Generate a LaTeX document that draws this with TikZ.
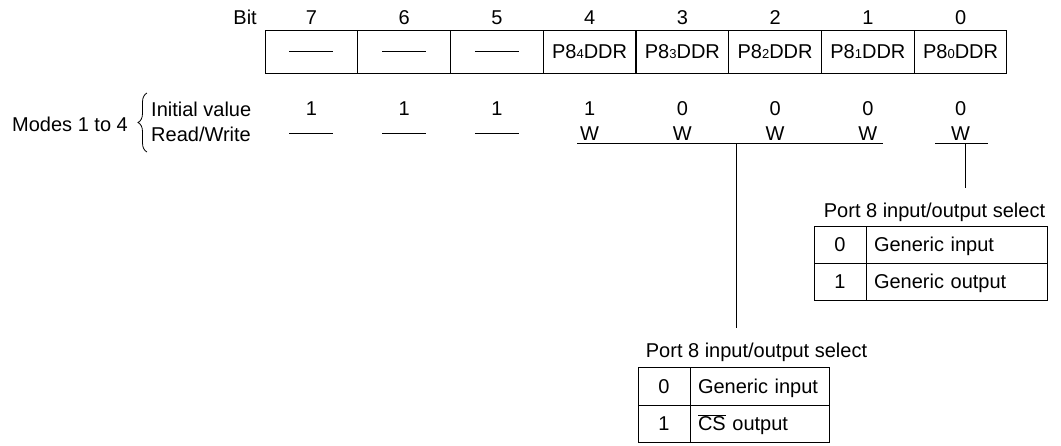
\documentclass[tikz,border=0pt]{standalone}
\usepackage{fontspec}
\setmainfont{Liberation Sans}
\usetikzlibrary{decorations.pathreplacing}
\newcommand\subd[1]{{\fontsize{13}{13}\selectfont #1}}
\begin{document}
\begin{tikzpicture}[x=1pt,y=-1pt,
  every node/.style={font=\fontsize{20}{24}\selectfont, inner sep=0pt},
  ln/.style={line width=1pt},
  cell/.style={draw, line width=1pt, minimum width=92.75pt, minimum height=43pt, anchor=center},
  txt/.style={anchor=base},
  ltxt/.style={anchor=base west},
  tkey/.style={draw, line width=1pt, minimum width=52pt, anchor=center, text height=14.3pt, text depth=0pt},
  tval/.style={draw, line width=1pt, anchor=center, text width=#1, align=left, inner xsep=8pt, text height=14.3pt, text depth=0pt},
]
\useasboundingbox (0,0) rectangle (1061,445);

% bit numbers
\node[anchor=base east] (bit) at (257,24) {Bit};
\node[txt] (b7) at (311.4,24) {7};
\node[txt] (b6) at (404.1,24) {6};
\node[txt] (b5) at (496.9,24) {5};
\node[txt] (b4) at (589.6,24) {4};
\node[txt] (b3) at (682.4,24) {3};
\node[txt] (b2) at (775.1,24) {2};
\node[txt] (b1) at (867.9,24) {1};
\node[txt] (b0) at (960.6,24) {0};

% register cells
\node[cell] (c7) at (311.4,51.5) {};
\node[cell] (c6) at (404.1,51.5) {};
\node[cell] (c5) at (496.9,51.5) {};
\node[cell] (c4) at (589.6,51.5) {P8\subd{4}DDR};
\node[cell] (c3) at (682.4,51.5) {P8\subd{3}DDR};
\node[cell] (c2) at (775.1,51.5) {P8\subd{2}DDR};
\node[cell] (c1) at (867.9,51.5) {P8\subd{1}DDR};
\node[cell] (c0) at (960.6,51.5) {P8\subd{0}DDR};
\foreach \c in {c7,c6,c5}{
  \draw[ln] ([xshift=-22pt]\c.center) -- ([xshift=22pt]\c.center);
}

% left labels
\node[ltxt] (modes) at (12,131) {Modes 1 to 4};
\node[ltxt] (iv) at (151,116) {Initial value};
\node[ltxt] (rw) at (151,141) {Read/Write};
\coordinate (brb) at (147,152);
\coordinate (brt) at (147,93);
\draw[line width=0.8pt, decorate, decoration={brace, amplitude=9pt}] (brb) -- (brt);

% initial values
\node[txt] (i7) at (311.4,115) {1};
\node[txt] (i6) at (404.1,115) {1};
\node[txt] (i5) at (496.9,115) {1};
\node[txt] (i4) at (589.6,115) {1};
\node[txt] (i3) at (682.4,115) {0};
\node[txt] (i2) at (775.1,115) {0};
\node[txt] (i1) at (867.9,115) {0};
\node[txt] (i0) at (960.6,115) {0};

% read/write
\coordinate (r7) at (311.4,133);
\coordinate (r6) at (404.1,133);
\coordinate (r5) at (496.9,133);
\foreach \c in {r7,r6,r5}{
  \draw[ln] ([xshift=-22pt]\c) -- ([xshift=22pt]\c);
}
\node[txt] (w4) at (589.6,140) {W};
\node[txt] (w3) at (682.4,140) {W};
\node[txt] (w2) at (775.1,140) {W};
\node[txt] (w1) at (867.9,140) {W};
\node[txt] (w0) at (960.6,140) {W};

% bracket lines
\coordinate (ua) at (577,143);
\coordinate (ub) at (883,143);
\coordinate (ja) at (736,143);
\coordinate (ea) at (736,328);
\draw[ln] (ua) -- (ub);
\draw[ln] (ja) -- (ea);
\coordinate (uc) at (935,143);
\coordinate (ud) at (988,143);
\coordinate (jb) at (965,143);
\coordinate (eb) at (965,188);
\draw[ln] (uc) -- (ud);
\draw[ln] (jb) -- (eb);

% right table
\node[txt] (t1) at (934.5,217) {Port 8 input/output select};
\node[tkey, minimum height=37pt] (k10) at (840,244.5) {0};
\node[tkey, minimum height=37pt] (k11) at (840,281.5) {1};
\node[tval=165pt, minimum height=37pt] (v10) at (956.5,244.5) {Generic input};
\node[tval=165pt, minimum height=37pt] (v11) at (956.5,281.5) {Generic output};

% bottom table
\node[txt] (t2) at (756.5,357) {Port 8 input/output select};
\node[tkey, minimum height=38pt] (k20) at (664,386) {0};
\node[tkey, minimum height=37pt] (k21) at (664,423.5) {1};
\node[tval=123pt, minimum height=38pt] (v20) at (759.5,386) {Generic input};
\node[tval=123pt, minimum height=37pt] (v21) at (759.5,423.5) {$\overline{\hbox{CS}}$ output};
\end{tikzpicture}
\end{document}
